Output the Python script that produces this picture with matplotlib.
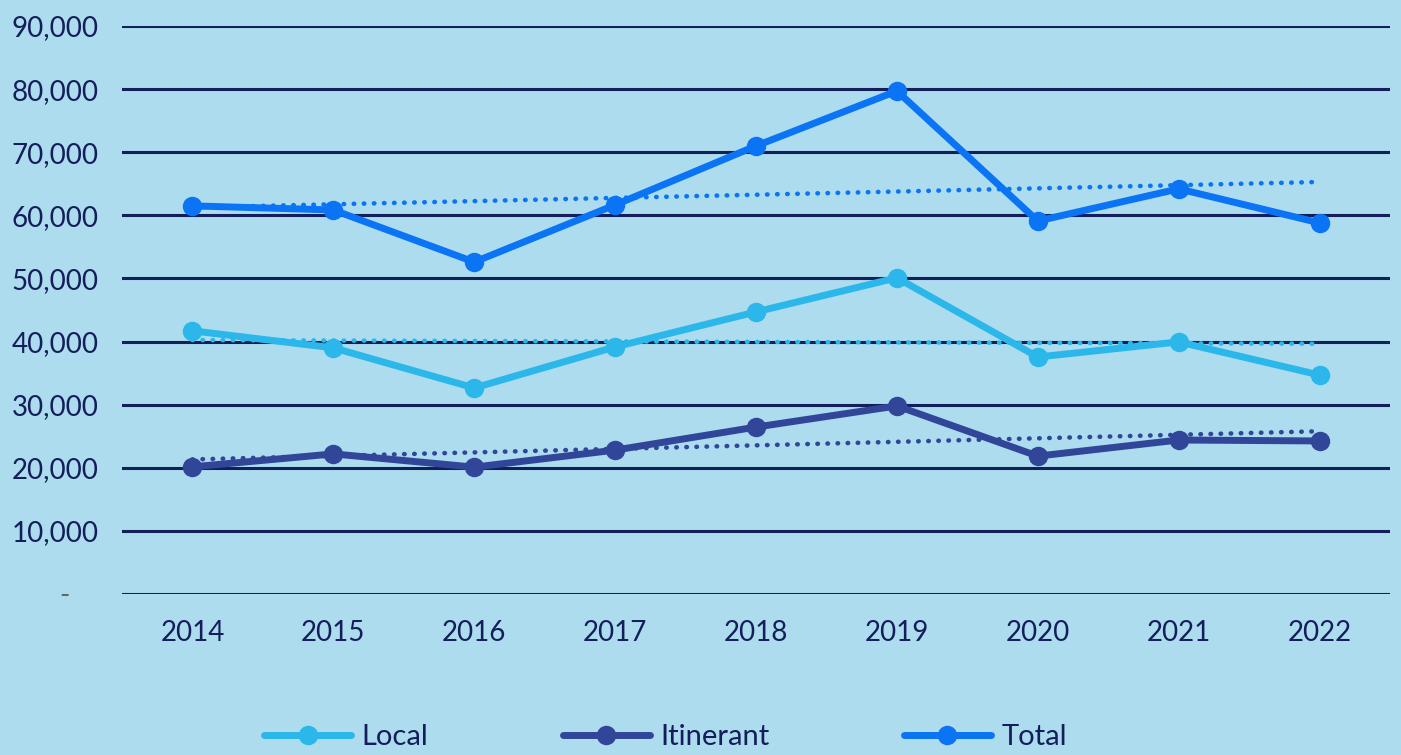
import numpy as np
import matplotlib.pyplot as plt
from matplotlib.ticker import FuncFormatter

years = ["2014", "2015", "2016", "2017", "2018", "2019", "2020", "2021", "2022"]
local = [41700, 39000, 32650, 39150, 44700, 50100, 37550, 39950, 34700]
itinerant = [20150, 22200, 20100, 22800, 26450, 29800, 21850, 24400, 24250]
total = [61500, 60850, 52600, 61650, 71000, 79700, 59100, 64200, 58800]

BG = "#acdcee"
NAVY = "#141e5a"
colors = {"Local": "#2bb7ea", "Itinerant": "#324699", "Total": "#0a74f5"}

plt.rcParams['font.family'] = ['Lato', 'DejaVu Sans']

fig = plt.figure(figsize=(14.01, 7.55), dpi=100, facecolor=BG)
ax = fig.add_axes([122 / 1401, 1 - 594 / 755, (1390 - 122) / 1401, (594 - 26) / 755])
ax.set_facecolor(BG)

x = np.arange(len(years))
for name, vals in [("Local", local), ("Itinerant", itinerant), ("Total", total)]:
    c = colors[name]
    # linear trendline, like the spreadsheet one
    k, b = np.polyfit(x, vals, 1)
    ax.plot(x, k * x + b, color=c, lw=3.3, linestyle=(0, (0.1, 2.1)),
            dash_capstyle='round', zorder=2)
    ax.plot(x, vals, color=c, lw=5, marker='o', markersize=13,
            solid_capstyle='round', label=name, zorder=3)

ax.set_ylim(0, 90000)
ax.set_yticks(np.arange(0, 90001, 10000))
ax.yaxis.set_major_formatter(FuncFormatter(lambda v, p: "-    " if v == 0 else f"{int(v):,}"))
ax.set_xlim(-0.5, len(years) - 0.5)
ax.set_xticks(x)
ax.set_xticklabels(years)

ax.grid(axis='y', color=NAVY, lw=2.2, zorder=1)
ax.set_axisbelow(True)
for s in ax.spines.values():
    s.set_visible(False)
ax.tick_params(axis='both', length=0, labelsize=20, labelcolor=NAVY)
ax.tick_params(axis='x', pad=19)
ax.tick_params(axis='y', pad=17)
ax.get_yticklabels()[0].set_color("#666666")

fig.legend(loc='center', bbox_to_anchor=(0.475, 1 - 737 / 755), ncol=3, frameon=False,
           fontsize=21, labelcolor=NAVY, handlelength=3.0, columnspacing=4.6,
           handletextpad=0.35, markerscale=1.0)

fig.savefig("out.png", dpi=100, facecolor=BG)
